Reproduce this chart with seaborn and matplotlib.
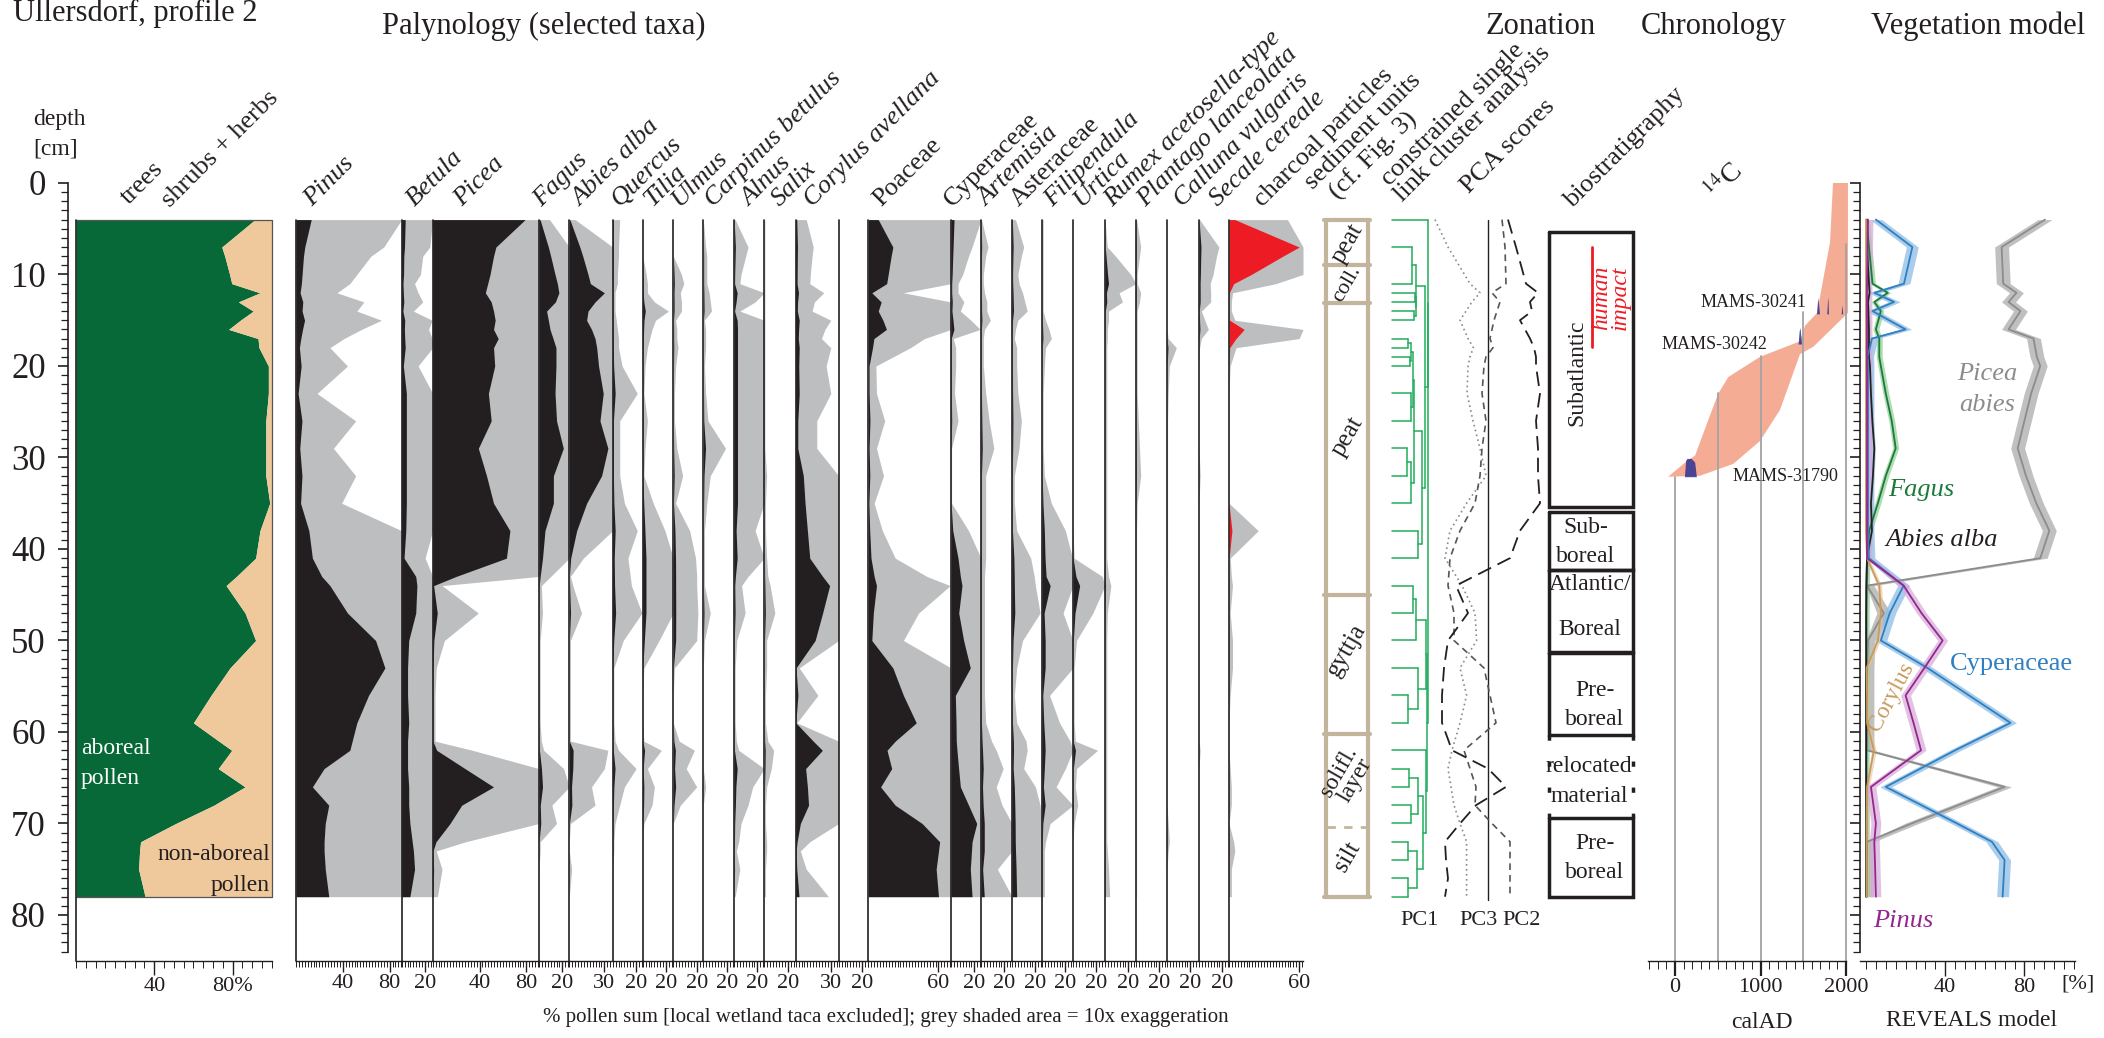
import numpy as np
import pandas as pd
import matplotlib
matplotlib.use("Agg")
import matplotlib.pyplot as plt
from matplotlib.ticker import FixedLocator
import seaborn as sns

# ======================= DATA =======================
depth = [4, 7, 8, 10, 11, 12, 13, 14, 15, 16, 17, 18, 20, 23, 26, 29, 32, 35, 38, 41,
         43, 44, 47, 50, 53, 56, 59, 61, 62, 64, 66, 68, 70, 72, 73, 75, 78]

trees_ap = [91.5, 74.5, 76, 78.5, 79.6, 94, 83, 90.6, 84, 78, 93, 93.5, 98.3, 98.3, 97, 97, 97, 99, 94, 91.8,
            82, 76.7, 86.4, 91.8, 78.7, 69, 60, 73, 79.6, 72.7, 86.4, 70.5, 51, 33, 32.5, 32, 35.3]

pinus = [13, 7.5, 6.4, 5.2, 4.6, 3.5, 5.8, 5.2, 7.3, 5.6, 4.1, 2.9, 4.4, 1.8, 5.1, 3.2, 5.1, 3.9, 11, 14,
         22, 29, 44, 68, 76, 62, 52, 48, 46, 24, 14, 28, 25, 24, 24, 25, 28]
betula = [3, 2.4, 1.8, 1.6, 1.1, 1.4, 1.8, 1.0, 2.6, 2.3, 2.6, 3, 1.4, 4, 4, 4, 4, 4, 3.5, 2.0,
          12, 13, 12, 6, 5, 5, 6, 5, 5, 5, 6, 6, 7, 9, 10, 11, 7]
picea = [79, 54, 52, 49, 47, 45, 50, 52, 53.4, 52, 56, 52, 53, 47.6, 50, 39, 46, 52, 66, 63,
         20, 0.8, 3.9, 1.0, 0.3, 0.2, 0.2, 0.2, 3.4, 27.6, 52, 24.8, 14.8, 2.8, 0.3, 0.8, 0.4]
fagus = [0.9, 8, 10, 13.7, 15.7, 17, 14, 6.5, 8, 9.4, 12, 14.5, 14.5, 13.7, 15, 20.8, 12.3, 12.3, 5.1, 3,
         1.0, 0.2, 0.3, 0.1, 0.1, 0.1, 0.1, 0.2, 0.4, 2.1, 3, 1.1, 1.5, 0.1, 0.1, 0, 0]
abies = [0.5, 9, 11.5, 16, 18, 30, 22, 16, 14.8, 19, 22, 23.4, 25, 29, 26.2, 33, 27.6, 14.8, 6.3, 1.2,
         0.1, 0.3, 1.05, 0.1, 0.1, 0.1, 0.1, 0.1, 3.3, 3.0, 1.9, 2.2, 0.1, 0, 0, 0.2, 0]
quercus = [0.6, 0.5, 0.5, 0.4, 0.4, 0.2, 0.2, 0.2, 0.3, 0.4, 0.5, 0.5, 0.8, 2.1, 0.6, 0.6, 0.6, 1.0, 2.1, 1.3,
           1.5, 1.6, 2.5, 0.9, 0.1, 0.1, 0.1, 0.2, 0.5, 2.0, 1.0, 0.6, 0.2, 0.1, 0.1, 0, 0]
tilia = [0, 0, 0, 0.3, 0.4, 0.4, 1.0, 2.2, 1.1, 0.8, 0.6, 0.4, 0.2, 0.1, 0.4, 0.2, 0.1, 0.9, 1.9, 2.8,
         2.8, 2.8, 2.8, 1.4, 0.1, 0, 0, 0.1, 1.6, 0.4, 1.0, 0.8, 0.1, 0, 0, 0, 0]
ulmus = [0, 0, 0, 0.7, 0.9, 0.6, 0.7, 0.7, 0.2, 0.3, 0.3, 0.4, 0.2, 0.1, 0.1, 0.3, 0.8, 0.2, 1.4, 1.9,
         2.0, 2.0, 2.1, 2.0, 0.1, 0, 0, 0.5, 1.8, 1.1, 2.0, 0.6, 0, 0, 0, 0, 0]
carpinus = [0, 0.2, 0.3, 0.3, 0.3, 0.5, 0.6, 0.7, 0.1, 0.2, 0.2, 0.2, 0.1, 0.2, 0.4, 1.9, 0.6, 0.3, 0.1, 0.1,
            0.1, 0.1, 0.6, 0.1, 0, 0, 0, 0, 0, 0, 0.2, 0, 0, 0, 0, 0, 0]
alnus = [0.1, 1.2, 1.0, 0.6, 0.5, 2.7, 1.8, 0.5, 2.7, 3, 3, 3, 3, 3, 3, 3, 3, 3, 1.8, 2.7,
         1.2, 0.65, 0.95, 0.23, 0.1, 0.1, 0.1, 0.2, 0.4, 2.7, 1.6, 1.2, 0.6, 0.4, 0.2, 0.5, 0.1]
salix = [0.05, 0.05, 0.05, 0.05, 0.05, 0.05, 0.05, 0.05, 0.05, 0.05, 0.05, 0.05, 0.05, 0.05, 0.05, 0.05, 0.2, 0.1, 0.1, 0.2,
         0.3, 0.5, 0.9, 0.2, 0.2, 0.1, 0.1, 0.3, 0.8, 0.6, 0.2, 0.1, 0.1, 0.2, 0.2, 0.1, 0.1]
corylus = [0.9, 1.5, 1.4, 1.25, 1.2, 2.4, 1.6, 1.4, 3.0, 2.5, 2.2, 3.0, 2.6, 3.0, 1.8, 1.8, 6.5, 8, 10, 12,
           23, 29, 23, 16.6, 0.3, 1.9, 0.1, 15, 22.8, 8.5, 10, 11, 4, 1.2, 0.4, 0.9, 2.8]
poaceae = [8.5, 21, 19.5, 17, 15.7, 3.0, 11, 8.5, 12.5, 15.5, 4.8, 3.6, 0.65, 0.7, 1.4, 0.7, 1.3, 0.5, 1.2, 2.3,
           5, 7, 4.3, 3.0, 21, 30, 41, 23, 16, 20, 10.5, 23, 46, 61, 60, 58, 60]
cyperaceae = [2.6, 1.8, 1.5, 1.0, 0.6, 0.6, 1.1, 0.8, 1.7, 2.5, 0.2, 0.4, 0.4, 0.3, 0.6, 0.05, 0.05, 0.05, 1.5, 6,
              8, 9.4, 6.6, 10.8, 16.5, 3.7, 4.3, 4.5, 5.1, 6.5, 8, 15, 22, 18, 17.5, 16.5, 18]
artemisia = [0.05, 0.6, 0.4, 0.2, 0.2, 0.3, 0.5, 0.5, 0.8, 0.3, 0.2, 0.2, 0.2, 0.4, 0.7, 1.1, 0.4, 0.4, 0.4, 0.4,
             0.3, 0.3, 0.3, 0.3, 0.3, 0.3, 0.4, 0.9, 1.3, 1.9, 1.3, 1.8, 2.8, 2.8, 2.8, 1.4, 2.8]
asteraceae = [0.3, 1.0, 0.8, 0.5, 0.6, 0.9, 1.1, 1.3, 0.5, 0.3, 0.2, 0.4, 0.4, 0.5, 0.8, 0.6, 0.2, 0.2, 0.4, 1.6,
              1.9, 2.0, 2.4, 0.9, 0.4, 0.2, 0.4, 1.2, 1.3, 1.0, 2.0, 2.4, 2.7, 2.8, 3, 3.5, 4]
filipendula = [0.1, 0.1, 0.1, 0.1, 0.1, 0.1, 0.1, 0.1, 0.3, 0.6, 0.8, 0.3, 0.2, 0.1, 0.1, 0.1, 0.2, 0.8, 2.0, 2.6,
               3.5, 7, 1.8, 2.7, 2.7, 0.65, 1.5, 2.4, 2.7, 2.0, 1.2, 2.7, 0.7, 0.3, 0.2, 0.2, 0.2]
urtica = [0, 0, 0, 0, 0, 0, 0, 0, 0, 0, 0, 0, 0, 0, 0, 0, 0, 0, 0, 0.1,
          2.5, 5.7, 1.7, 0.3, 0.1, 0.1, 0.1, 0.2, 2.1, 0.3, 0.2, 0.4, 0.1, 0, 0, 0, 0]
rumex = [0, 0.2, 0.9, 2.2, 3.0, 1.2, 1.5, 0.3, 0.3, 0.2, 0.2, 0.15, 0.15, 0.15, 0.15, 0.15, 0.15, 0.15, 0.15, 0.15,
         0.3, 0.5, 0.2, 0.15, 0.15, 0.15, 0.15, 0.15, 0.15, 0.15, 0.15, 0.15, 0.15, 0.15, 0.2, 0.3, 0.4]
plantago = [0.05, 0.4, 0.3, 0.1, 0.1, 0.4, 0.3, 0.1, 0.1, 0.1, 0.1, 0.1, 0.1, 0.1, 0.2, 0.3, 0.4, 0.1, 0.05, 0.05,
            0.05, 0.05, 0.05, 0.05, 0.05, 0.05, 0.05, 0.05, 0.05, 0.05, 0.05, 0.05, 0.05, 0.05, 0.05, 0.05, 0.05]
calluna = [0, 0, 0, 0, 0, 0, 0, 0, 0, 0, 0.1, 0.8, 0.2, 0.1, 0.05, 0.05, 0.05, 0.05, 0.05, 0.05,
           0, 0, 0, 0, 0, 0, 0, 0, 0, 0, 0, 0, 0.1, 0.2, 0.1, 0, 0]
secale = [0.05, 1.7, 1.5, 1.2, 0.95, 1.0, 1.0, 0.2, 0.5, 0.8, 0.2, 0.05, 0, 0, 0, 0, 0.1, 0, 0, 0,
          0, 0, 0, 0, 0, 0, 0, 0, 0.1, 0, 0, 0, 0, 0, 0, 0, 0]
charcoal = [5, 60, 46, 19, 4, 0.3, 0.2, 0.2, 0.5, 13, 6, 0.6, 0.1, 0, 0, 0, 0, 0, 2.5, 0.1,
            0.2, 0.3, 0.1, 0.3, 0.3, 0.1, 0, 0, 0, 0.1, 0.2, 0.2, 0, 0.4, 0.5, 0.2, 0.2]

pollen_names = ["Pinus", "Betula", "Picea", "Fagus", "Abies alba", "Quercus", "Tilia", "Ulmus",
                "Carpinus betulus", "Alnus", "Salix", "Corylus avellana", "", "Poaceae", "Cyperaceae",
                "Artemisia", "Asteraceae", "Filipendula", "Urtica", "Rumex acetosella-type",
                "Plantago lanceolata", "Calluna vulgaris", "Secale cereale", "charcoal particles"]
pollen_values = [pinus, betula, picea, fagus, abies, quercus, tilia, ulmus, carpinus, alnus, salix,
                 corylus, None, poaceae, cyperaceae, artemisia, asteraceae, filipendula, urtica, rumex,
                 plantago, calluna, secale, charcoal]
pollen_ticklabels = [[40, 80], [20], [40, 80], [20], [30], [20], [20], [20], [20], [20], [20], [30], [20],
                     [60], [20], [20], [20], [20], [20], [20], [20], [20], [20], [60]]
pollen_italic = [True, True, True, True, True, True, True, True, True, True, True, True, False, False, False,
                 True, False, True, True, True, True, True, True, False]

# sediment units
sed_bounds = [4, 9.0, 13.1, 45.0, 60.2, 70.4, 78]
sed_names = ["peat", "coll.", "peat", "gyttja", "solifl.\nlayer", "silt"]

# constrained cluster analysis (leaf depths and merges: child a, child b, height)
cl_depth = [4, 7, 11, 12, 13, 14, 15, 17, 18, 19, 20, 23, 26, 29, 32, 35, 38, 41, 44, 47, 50, 53, 56, 59,
            62, 64, 66, 68, 70, 72, 74, 76, 78]
cl_merges = [(1, 2, 59), (3, 4, 66), (5, 6, 63), (34, 35, 68), (33, 36, 70), (7, 8, 46), (9, 10, 52),
             (38, 39, 56), (11, 12, 55), (40, 41, 60), (13, 14, 44), (43, 15, 54), (42, 44, 64),
             (16, 17, 74), (45, 46, 88), (37, 47, 96), (18, 19, 60), (49, 20, 70), (22, 23, 46),
             (21, 51, 74), (50, 52, 97), (25, 26, 50), (27, 28, 56), (54, 55, 74), (29, 30, 46),
             (31, 32, 46), (57, 58, 72), (56, 59, 90), (24, 60, 99), (53, 61, 100), (0, 48, 104),
             (63, 62, 104)]

# PCA scores at cluster sample depths
pc1 = [1.0, 1.4, 1.9, 2.5, 2.1, 2.2, 1.6, 2.1, 2.3, 2.4, 2.4, 2.6, 2.4, 2.5, 2.5, 2.6, 1.6, 1.1, -1.6, -1.0,
       -2.0, -2.2, -2.3, -2.3, -1.8, 0.0, 0.9, -0.6, -1.4, -2.15, -2.1, -2.0, -2.15]
pc2 = [0.7, 0.85, 0.9, 0.2, 0.6, 0.45, 0.3, 0.1, 0.25, -0.1, -0.2, -0.3, -0.1, -0.3, -0.4, -0.65, -1.4, -1.9,
       -2.0, -1.7, -1.7, -0.2, 0.1, 0.4, -1.2, -0.9, -0.6, -0.65, 0.2, 1.1, 1.1, 1.1, 1.1]
pc3 = [-2.65, -2.0, -0.9, -0.4, -0.8, -1.1, -1.4, -1.0, -0.73, -0.9, -1.0, -1.05, -0.75, -0.4, -0.1, -1.07,
       -1.9, -2.15, -1.3, -0.65, -0.57, -1.4, -1.07, -1.4, -1.8, -2.0, -1.85, -1.7, -1.4, -1.07, -1.07,
       -1.07, -1.07]

# biostratigraphy
bio_top = [5.4, 36.0, 42.3, 51.4, 60.3, 69.4]
bio_bottom = [35.4, 42.3, 51.3, 60.3, 69.4, 78.0]

# chronology: age-depth envelope (cal AD) and calibrated dates
env_min_depth = [0, 6.5, 14.2, 15.6, 17.3, 19.0, 21.2, 23.0, 25.4, 29.8, 30.4, 32.1]
env_min_age = [1848, 1813, 1661, 1520, 1462, 994, 624, 507, 409, 234, 137, -80]
env_max_depth = [0, 14.2, 17.9, 18.7, 24.8, 28.2, 30.7, 32.0, 32.1]
env_max_age = [2023, 2023, 1618, 1462, 1228, 994, 682, 292, -80]
grid_ages = [0, 500, 1000, 1500, 2000]
grid_top_depth = [32.1, 23.0, 18.9, 14.1, 6.7]
date_labels = ["MAMS-30241", "MAMS-30242", "MAMS-31790"]
date_depth = [14.3, 17.6, 32.1]
date_ages = [[1655, 1665, 1672, 1680, 1690, 1775, 1783, 1789, 1795, 1943, 1953, 1962],
             [1440, 1452, 1462, 1470, 1480],
             [110, 125, 140, 190, 230, 250]]
date_prob = [[0, 1.2, 1.8, 1.0, 0, 0, 1.4, 1.8, 0, 0, 1.0, 0],
             [0, 1.4, 1.8, 1.0, 0],
             [0, 1.8, 2.0, 2.0, 1.6, 0]]

# REVEALS vegetation model (%)
veg_depth = [4, 7, 11, 12, 13, 14, 16, 17, 19, 20, 23, 26, 29, 32, 35, 38, 41, 44, 47, 50, 53, 56, 59, 62,
             66, 70, 72, 74, 78]
rev_picea = [90.4, 68.5, 69.3, 76, 72, 78, 72, 84.6, 86.3, 88, 83.4, 80, 76.6, 80.8, 86, 92.6, 88, 0.5, 9,
             1.0, 0.5, 0.5, 0.5, 0.5, 70, 23, 0.5, 0.3, 0.3]
rev_fagus = [0.3, 1.5, 3.3, 11, 4.2, 7.5, 5, 6.7, 6.7, 7.5, 10, 13, 15, 10, 6, 1.6, 0.5, 0.2, 0.1, 0.1,
             0.1, 0.1, 0.1, 0.1, 0.1, 0.1, 0.1, 0.1, 0.1]
rev_abies = [0.5, 0.5, 1.5, 1.8, 1.0, 1.2, 1.5, 1.5, 1.5, 2, 2.5, 3.2, 4.2, 3.5, 2.5, 3, 0.5, 0.2, 0.1, 0.1,
             0.1, 0.1, 0.1, 0.1, 0.1, 0.1, 0.1, 0.1, 0.1]
rev_cyperaceae = [5, 23.4, 19.2, 4.2, 14.2, 3.3, 20, 3, 0.8, 1, 1, 1, 1, 1, 1, 1, 1.5, 19, 12, 7.5, 31, 52,
                  73, 45, 10, 46, 63.6, 70, 69]
rev_corylus = [0, 0, 0, 0, 0, 0, 0, 0, 0, 0, 0, 0, 0, 0, 0, 0, 0.5, 6.7, 7.5, 6, 0.3, 0.5, 0.5, 4, 0.5, 0.3,
               0.3, 0.3, 0.3]
rev_pinus = [1, 0.8, 0.5, 0.5, 0.5, 0.5, 0.5, 0.5, 0.5, 0.5, 0.5, 0.5, 0.5, 0.5, 0.5, 0.5, 0.5, 19, 28, 38.7,
             29.5, 20, 24, 27.8, 2.5, 5, 4.2, 4.5, 5]
rev_names = ["Picea abies", "Fagus", "Abies alba", "Cyperaceae", "Corylus", "Pinus"]
rev_values = [rev_picea, rev_fagus, rev_abies, rev_cyperaceae, rev_corylus, rev_pinus]
rev_err = [3.5, 1.5, 0.6, 3.0, 1.2, 2.5]

# ======================= STYLE / LAYOUT =======================
sns.set_theme(style="white")
plt.rcParams["font.family"] = ["Liberation Serif", "DejaVu Serif"]
plt.rcParams["mathtext.fontset"] = "stix"
plt.rcParams["axes.unicode_minus"] = False

W, H = 2104, 1038
Y0 = 183.0          # pixel row of depth 0
PXCM = 9.15         # pixels per cm depth
PXPCT = 1.17        # pixels per percent in pollen panels
INK = "#231f20"
GREY = "#bcbec0"

pollen_edges = [296, 401.7, 432.7, 539, 569.3, 612.7, 642.7, 673.3, 703.3, 734, 764.3, 795.7, 838.7,
                868.3, 951, 981, 1012, 1042, 1073, 1105, 1136, 1167, 1199, 1229, 1303]
label_x = [312, 415, 462, 542, 580, 620, 652, 680, 713, 749, 780, 812, None, 881, 952, 986, 1019, 1053,
           1082, 1113, 1146, 1182, 1218, 1262]

fig = plt.figure(figsize=(W / 100, H / 100), dpi=100)
fig.patch.set_facecolor("white")


def ypx(d):
    return Y0 + PXCM * d


def add_ax(x0, x1, d0=0.0, d1=85.0):
    y0, y1 = ypx(d0), ypx(d1)
    ax = fig.add_axes([x0 / W, 1 - y1 / H, (x1 - x0) / W, (y1 - y0) / H])
    ax.set_ylim(d1, d0)
    ax.patch.set_alpha(0)
    for s in ax.spines.values():
        s.set_visible(False)
    ax.set_xticks([])
    ax.set_yticks([])
    ax.grid(False)
    return ax


def ftext(x, y, s, **kw):
    return fig.text(x / W, 1 - y / H, s, **kw)


def bottom_axis(ax, lo, hi, major, labels, minor, maj_len=8, min_len=4, fs=15):
    sp = ax.spines["bottom"]
    sp.set_visible(True)
    sp.set_color(INK)
    sp.set_linewidth(1.0)
    sp.set_bounds(lo, hi)
    ax.xaxis.set_ticks_position("bottom")
    ax.set_xticks(major)
    ax.set_xticklabels(labels, fontsize=fs, color=INK)
    ax.xaxis.set_minor_locator(FixedLocator(minor))
    ax.tick_params(axis="x", which="major", bottom=True, length=maj_len, width=1.0, direction="out",
                   pad=1.5, colors=INK)
    ax.tick_params(axis="x", which="minor", bottom=True, length=min_len, width=0.7, direction="out",
                   colors=INK)


def depth_axis(ax, labels=True):
    sp = ax.spines["left"]
    sp.set_visible(True)
    sp.set_color(INK)
    sp.set_linewidth(1.2)
    sp.set_bounds(0, 84)
    ax.yaxis.set_ticks_position("left")
    ax.set_yticks(np.arange(0, 81, 10))
    if labels:
        ax.set_yticklabels([str(v) for v in range(0, 81, 10)], fontsize=25, color=INK)
    else:
        ax.set_yticklabels([])
    ax.yaxis.set_minor_locator(FixedLocator(np.arange(0, 85, 1)))
    ax.tick_params(axis="y", which="major", left=True, length=7, width=1.2, direction="out", pad=9,
                   colors=INK)
    ax.tick_params(axis="y", which="minor", left=True, length=5, width=0.9, direction="out", colors=INK)


d = np.array(depth, float)

# ---------- titles ----------
ftext(13, 21, "Ullersdorf, profile 2", fontsize=22, ha="left", va="baseline", color=INK)
ftext(544, 34, "Palynology (selected taxa)", fontsize=22, ha="center", va="baseline", color=INK)
ftext(1541, 34, "Zonation", fontsize=22, ha="center", va="baseline", color=INK)
ftext(1714, 34, "Chronology", fontsize=22, ha="center", va="baseline", color=INK)
ftext(1978, 34, "Vegetation model", fontsize=22, ha="center", va="baseline", color=INK)

# ---------- depth axis ----------
axd = add_ax(68, 76)
depth_axis(axd, labels=True)
ftext(33, 125, "depth", fontsize=17, ha="left", va="baseline", color=INK)
ftext(33, 155, "[cm]", fontsize=17, ha="left", va="baseline", color=INK)

# ---------- trees / shrubs+herbs ----------
axt = add_ax(76, 271.7)
axt.set_xlim(0, 100)
ap = np.array(trees_ap, float)
axt.fill_betweenx(d, 0, ap, color="#066937", lw=0)
axt.fill_betweenx(d, ap, 100, color="#efc89b", lw=0)
axt.plot([0, 100, 100, 0], [4, 4, 78, 78], color="#555555", lw=0.9, clip_on=False)
axt.plot([0, 0], [4, 85], color=INK, lw=1.2, clip_on=False)
bottom_axis(axt, 0, 100, [40, 80], ["40", "80%"], np.arange(0, 101, 5), maj_len=10, min_len=5, fs=16)
ftext(81, 754, "aboreal", fontsize=17, color="white", ha="left", va="baseline")
ftext(81, 784, "pollen", fontsize=17, color="white", ha="left", va="baseline")
ftext(270, 860, "non-aboreal", fontsize=17, color=INK, ha="right", va="baseline")
ftext(270, 891, "pollen", fontsize=17, color=INK, ha="right", va="baseline")
ftext(129, 205, "trees", fontsize=19, rotation=45, rotation_mode="anchor", ha="left", va="baseline",
      color=INK)
ftext(170, 208, "shrubs + herbs", fontsize=19, rotation=45, rotation_mode="anchor", ha="left",
      va="baseline", color=INK)

# ---------- pollen panels ----------
for i, name in enumerate(pollen_names):
    x0, x1 = pollen_edges[i], pollen_edges[i + 1]
    xmax = (x1 - x0) / PXPCT
    ax = add_ax(x0, x1)
    ax.set_xlim(0, xmax)
    vals = pollen_values[i]
    if vals is not None:
        v = np.array(vals, float)
        main = "#ed1c24" if name.startswith("charcoal") else INK
        ax.fill_betweenx(d, 0, np.minimum(v * 10, xmax), color=GREY, lw=0)
        ax.fill_betweenx(d, 0, np.minimum(v, xmax), color=main, lw=0)
    ax.plot([0, 0], [4, 85], color=INK, lw=1.2, clip_on=False)
    tl = pollen_ticklabels[i]
    bottom_axis(ax, 0, xmax, tl, [str(t) for t in tl], np.arange(0, xmax + 1e-6, 2.5), fs=16)
    if label_x[i] is not None:
        ftext(label_x[i], 207, name, fontsize=19, rotation=45, rotation_mode="anchor", ha="left",
              va="baseline", style="italic" if pollen_italic[i] else "normal", color=INK)

ftext(886, 1022, "% pollen sum [local wetland taca excluded]; grey shaded area = 10x exaggeration",
      fontsize=15, ha="center", va="baseline", color=INK)

# ---------- sediment units ----------
TAN = "#c2b59b"
axs = add_ax(1320, 1375)
axs.set_xlim(1320, 1375)
axs.plot([1326, 1326], [4, 78], color=TAN, lw=3, solid_capstyle="butt")
axs.plot([1368, 1368], [4, 78], color=TAN, lw=3, solid_capstyle="butt")
for j, b in enumerate(sed_bounds):
    if abs(b - 70.4) < 0.01:
        axs.plot([1327, 1367], [b, b], color=TAN, lw=2, ls=(0, (3, 3)))
    else:
        axs.plot([1324.5, 1369.5], [b, b], color=TAN, lw=3)
sed_label_depth = [6.6, 11.0, 27.7, 51.0, 64.8, 73.6]
sed_label_size = [18, 16, 18, 18, 17, 18]
for nm, dd, fs in zip(sed_names, sed_label_depth, sed_label_size):
    axs.text(1347, dd, nm, fontsize=fs, rotation=60, ha="center", va="center", color=INK,
             linespacing=0.85)

# ---------- cluster dendrogram ----------
GREEN = "#22ad5c"
axc = add_ax(1392, 1428)
axc.set_xlim(0, 104)
pos = list(cl_depth)
hgt = [0.0] * len(cl_depth)
for a, b, h in cl_merges:
    for n in (a, b):
        axc.plot([hgt[n], h], [pos[n], pos[n]], color=GREEN, lw=1.1, clip_on=False)
    axc.plot([h, h], [pos[a], pos[b]], color=GREEN, lw=1.1, clip_on=False)
    pos.append((pos[a] + pos[b]) / 2)
    hgt.append(h)

# ---------- PCA scores ----------
axp = add_ax(1430, 1548)
pca_df = pd.DataFrame({"depth": cl_depth, "PC1": pc1, "PC2": pc2, "PC3": pc3})
axp.plot([0, 0], [4, 78.4], color=INK, lw=1.0)
sns.lineplot(data=pca_df, x="PC3", y="depth", orient="y", ax=axp, color="#8a8a8a", lw=1.2,
             linestyle=(0, (1, 2)), legend=False, estimator=None)
sns.lineplot(data=pca_df, x="PC2", y="depth", orient="y", ax=axp, color="#555555", lw=1.2,
             linestyle=(0, (4, 3)), legend=False, estimator=None)
sns.lineplot(data=pca_df, x="PC1", y="depth", orient="y", ax=axp, color=INK, lw=1.3,
             linestyle=(0, (8, 4)), legend=False, estimator=None)
axp.set_xlim(-2.9, 3.0)
axp.set_ylim(85, 0)
axp.set_xlabel("")
axp.set_ylabel("")
axp.set_xticks([])
axp.set_yticks([])
ftext(1420, 925, "PC1", fontsize=16, ha="center", va="baseline", color=INK)
ftext(1478, 925, "PC3", fontsize=16, ha="center", va="baseline", color=INK)
ftext(1522, 925, "PC2", fontsize=16, ha="center", va="baseline", color=INK)

# ---------- biostratigraphy ----------
axb = add_ax(1540, 1640)
axb.set_xlim(1540, 1640)
BL, BR = 1548.5, 1632.5
for k, (t, b) in enumerate(zip(bio_top, bio_bottom)):
    if k == 4:
        axb.plot([BL, BL], [t, b], color=INK, lw=2.5, ls=(0, (1.5, 6)))
        axb.plot([BR, BR], [t, b], color=INK, lw=2.5, ls=(0, (1.5, 6)))
    else:
        axb.plot([BL, BR, BR, BL, BL], [t, t, b, b, t], color=INK, lw=2.5, solid_joinstyle="miter")
axb.text(1577, 20.7, "Subatlantic", rotation=90, fontsize=17, ha="center", va="center", color=INK)
axb.plot([1592, 1592], [7.0, 17.9], color="#ed1c24", lw=2)
axb.text(1611, 12.5, "human\nimpact", rotation=90, fontsize=17, style="italic", ha="center",
         va="center", color="#ed1c24", linespacing=0.8)
bio_text = [("Sub-", 1586, 37.6), ("boreal", 1586, 40.8), ("Atlantic/", 1590, 43.9),
            ("Boreal", 1590, 48.8), ("Pre-", 1595, 55.5), ("boreal", 1595, 58.6),
            ("relocated", 1589, 63.8), ("material", 1589, 67.1), ("Pre-", 1595, 72.2),
            ("boreal", 1595, 75.4)]
for s, xx, dd in bio_text:
    axb.text(xx, dd, s, fontsize=17, ha="center", va="center", color=INK)

# zonation column labels
ftext(1313, 190, "sediment units", fontsize=19, rotation=45, rotation_mode="anchor", ha="left",
      va="baseline", color=INK)
ftext(1338, 200, "(cf. Fig. 3)", fontsize=19, rotation=45, rotation_mode="anchor", ha="left",
      va="baseline", color=INK)
ftext(1389, 186, "constrained single", fontsize=19, rotation=45, rotation_mode="anchor", ha="left",
      va="baseline", color=INK)
ftext(1402, 202, "link cluster analysis", fontsize=19, rotation=45, rotation_mode="anchor", ha="left",
      va="baseline", color=INK)
ftext(1469, 194, "PCA scores", fontsize=19, rotation=45, rotation_mode="anchor", ha="left",
      va="baseline", color=INK)
ftext(1572, 208, "biostratigraphy", fontsize=19, rotation=45, rotation_mode="anchor", ha="left",
      va="baseline", color=INK)
ftext(1716, 202, "$^{14}$C", fontsize=20, rotation=45, rotation_mode="anchor", ha="left",
      va="baseline", color=INK)

# ---------- chronology ----------
axa = add_ax(1648, 1860)
axa.set_xlim((1648 - 1675) / 0.0855, (1860 - 1675) / 0.0855)
poly_x = list(env_min_age) + list(env_max_age[::-1])
poly_y = list(env_min_depth) + list(env_max_depth[::-1])
axa.fill(poly_x, poly_y, color="#f4a98e", lw=0, alpha=0.95)
for ga, gt in zip(grid_ages, grid_top_depth):
    axa.plot([ga, ga], [gt, 85], color="#a3a3a3", lw=1.3)
for lab, dd, ages, pr in zip(date_labels, date_depth, date_ages, date_prob):
    axa.fill_between(ages, dd, dd - np.array(pr, float), color="#2e3192", lw=0, alpha=0.85)
axa.text(1540, 13.1, "MAMS-30241", fontsize=13, ha="right", va="center", color=INK)
axa.text(1075, 17.6, "MAMS-30242", fontsize=13, ha="right", va="center", color=INK)
axa.text(670, 32.1, "MAMS-31790", fontsize=13, ha="left", va="center", color=INK)
bottom_axis(axa, (1648 - 1675) / 0.0855, 2000, [0, 1000, 2000], ["0", "1000", "2000"],
            np.arange(-300, 2001, 100), maj_len=11, min_len=6, fs=16)
axa.tick_params(axis="x", which="major", width=1.6)
ftext(1762, 1028, "calAD", fontsize=17, ha="center", va="baseline", color=INK)

# ---------- vegetation model ----------
axv = add_ax(1860, 2080)
vx0 = (1860 - 1866) / 1.98
axv.set_xlim(vx0, (2080 - 1866) / 1.98)
rev_line = ["#8c8c8c", "#1c7a3c", "#222222", "#2f7fc1", "#c89a5e", "#93278f"]
rev_band = ["#b5b5b5", "#79c77f", "#888888", "#8fbde6", "#e2c59c", "#d7a8d8"]
rev_alpha = [0.85, 0.6, 0.45, 0.75, 0.6, 0.7]
vd = np.array(veg_depth, float)
for nm, vals, err, lc, bc, al in zip(rev_names, rev_values, rev_err, rev_line, rev_band, rev_alpha):
    v = np.array(vals, float)
    axv.fill_betweenx(vd, np.clip(v - err, 0, None), v + err, color=bc, alpha=al, lw=0)
for nm, vals, lc in zip(rev_names, rev_values, rev_line):
    dfv = pd.DataFrame({"depth": veg_depth, "pct": vals})
    sns.lineplot(data=dfv, x="pct", y="depth", orient="y", ax=axv, color=lc, lw=1.3, legend=False,
                 estimator=None)
axv.set_xlim(vx0, (2080 - 1866) / 1.98)
axv.set_ylim(85, 0)
axv.set_xlabel("")
axv.set_ylabel("")
for s in axv.spines.values():
    s.set_visible(False)
depth_axis(axv, labels=False)
axv.spines["left"].set_position(("data", vx0))
bottom_axis(axv, vx0, (2075 - 1866) / 1.98, [40, 80], ["40", "80"], np.arange(0, 106, 5),
            maj_len=11, min_len=6, fs=16)
ftext(2078, 988, "[%]", fontsize=16, ha="center", va="baseline", color=INK)
ftext(1972, 1026, "REVEALS model", fontsize=17, ha="center", va="baseline", color=INK)
ftext(1987, 380, "Picea", fontsize=19, style="italic", ha="center", va="baseline", color="#8c8c8c")
ftext(1987, 411, "abies", fontsize=19, style="italic", ha="center", va="baseline", color="#8c8c8c")
ftext(1888, 496, "Fagus", fontsize=19, style="italic", ha="left", va="baseline", color="#1c7a3c")
ftext(1885, 546, "Abies alba", fontsize=19, style="italic", ha="left", va="baseline", color=INK)
ftext(1950, 670, "Cyperaceae", fontsize=19, ha="left", va="baseline", color="#2f7fc1")
ftext(1891, 697, "Corylus", fontsize=17, rotation=62, ha="center", va="center", color="#c89a5e")
ftext(1873, 927, "Pinus", fontsize=19, style="italic", ha="left", va="baseline", color="#93278f")

fig.savefig("out.png", dpi=100, facecolor="white")
